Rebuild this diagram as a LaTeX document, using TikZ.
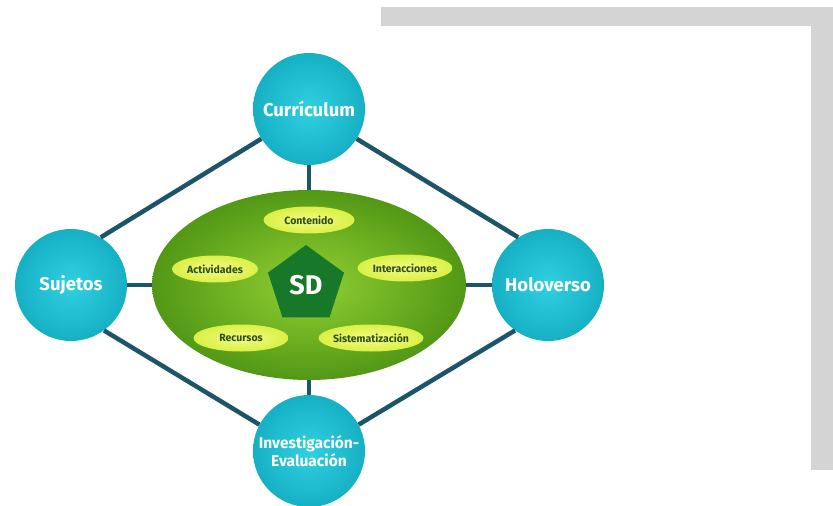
\documentclass[tikz,border=0pt]{standalone}
\usepackage{fontspec}
\setmainfont{Fira Sans}
\usetikzlibrary{shapes.geometric}
\usetikzlibrary{positioning}

\definecolor{framegray}{RGB}{212,212,212}
\definecolor{cyanin}{RGB}{48,208,225}
\definecolor{cyanout}{RGB}{22,176,196}
\definecolor{greenin}{RGB}{145,208,50}
\definecolor{greenout}{RGB}{82,152,22}
\definecolor{itemin}{RGB}{242,252,130}
\definecolor{itemout}{RGB}{218,240,70}
\definecolor{itemtext}{RGB}{45,75,20}
\definecolor{sdgreen}{RGB}{22,120,40}
\definecolor{linkteal}{RGB}{28,84,104}

% label text that does not widen its ellipse
\newcommand{\itemlabel}[1]{\makebox[0pt]{#1}}

\begin{document}
\begin{tikzpicture}[x=1pt, y=-1pt, on grid,
        topic/.style={circle, minimum size=112pt, inner sep=0pt, shading=radial,
            inner color=cyanin, outer color=cyanout, text=white, align=center,
            font=\fontsize{18.5}{20}\selectfont\bfseries},
        item/.style={ellipse, minimum width=#1, minimum height=27pt, inner sep=0pt,
            shading=radial, inner color=itemin, outer color=itemout, text=itemtext,
            font=\fontsize{10.5}{12}\selectfont\bfseries},
        link/.style={draw=linkteal, line width=4.5pt}]
        \useasboundingbox (0,0) rectangle (833,506);
        % gray frame
        \fill[framegray] (381,7) rectangle (833,26);
        \fill[framegray] (811,7) rectangle (833,470);

        \node[ellipse, minimum width=314pt, minimum height=190pt, inner sep=0pt,
            shading=radial, inner color=greenin, outer color=greenout] (core) at (309,285) {};
        \node[regular polygon, regular polygon sides=5, minimum size=80pt, inner sep=0pt,
            fill=sdgreen, text=white, font=\fontsize{27}{29}\selectfont\bfseries]
            (sd) [left=3pt of core] {SD};

        \node[item=91pt] (cont) [above=65pt of core] {\itemlabel{Contenido}};
        \node[item=86pt] (act) [above left=16pt and 94pt of core] {\itemlabel{Actividades}};
        \node[item=95pt] (inter) [above right=17pt and 96pt of core] {\itemlabel{Interacciones}};
        \node[item=95pt] (rec) [below left=53pt and 68pt of core] {\itemlabel{Recursos}};
        \node[item=105pt] (sist) [below right=53pt and 62pt of core] {\itemlabel{Sistematización}};

        \node[topic] (cur) [above=176pt of core] {Currículum};
        \node[topic] (suj) [left=238pt of core] {Sujetos};
        \node[topic] (hol) [right=239pt of core] {Holoverso};
        \node[topic, font=\fontsize{15.5}{18.5}\selectfont\bfseries] (inv) [below=166pt of core]
            {Investigación-\\Evaluación};

        \path[link] (cur) edge (core)
              (suj) edge (core)
              (hol) edge (core)
              (inv) edge (core)
              (cur.212) edge (suj.58)
              (cur.328) edge (hol.122)
              (suj.306) edge (inv.152)
              (hol.234) edge (inv.28);
    \end{tikzpicture}
\end{document}
